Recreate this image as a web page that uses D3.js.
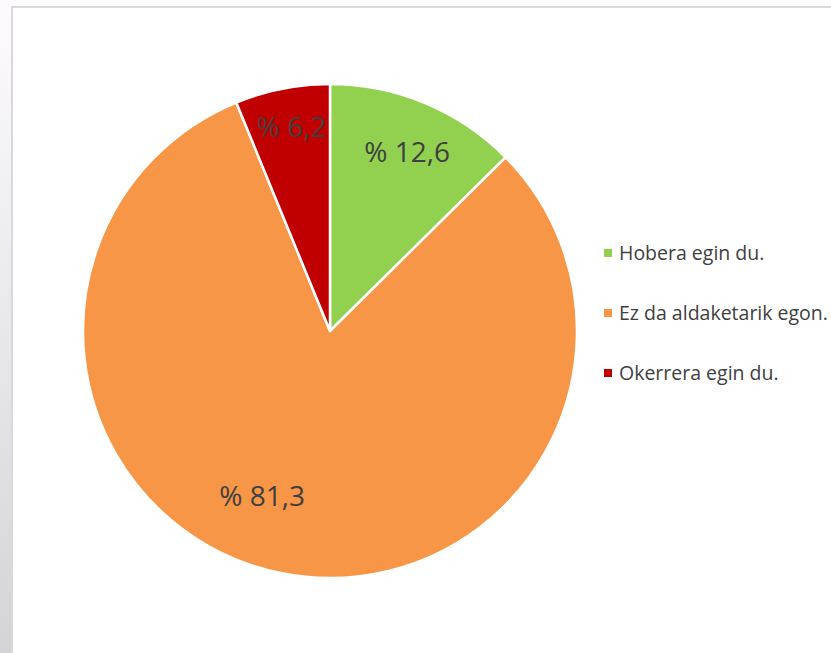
<!DOCTYPE html>
<html>
<head>
<meta charset="utf-8">
<script src="https://cdn.jsdelivr.net/npm/d3@7"></script>
<style>
  html, body { margin: 0; padding: 0; background: #fdfbfd; }
  svg { display: block; }
</style>
</head>
<body>
<div id="chart"></div>
<script>
const categories = ["Hobera egin du.", "Ez da aldaketarik egon.", "Okerrera egin du."];
const values = [12.6, 81.3, 6.2];
const labels = ["% 12,6", "% 81,3", "% 6,2"];
const colors = ["#92D050", "#F79646", "#C00000"];

const W = 831, H = 653;
const cx = 330, cy = 331, r = 247;

const svg = d3.select("#chart").append("svg")
    .attr("width", W)
    .attr("height", H);

// fond gris a gauche
const defs = svg.append("defs");
const grad = defs.append("linearGradient")
    .attr("id", "side").attr("x1", 0).attr("y1", 0).attr("x2", 0).attr("y2", 1);
grad.append("stop").attr("offset", "0%").attr("stop-color", "#fdfbfd");
grad.append("stop").attr("offset", "100%").attr("stop-color", "#d4d4d8");
svg.append("rect").attr("x", 0).attr("y", 0).attr("width", 12).attr("height", H)
    .attr("fill", "url(#side)");

// cadre
svg.append("rect")
    .attr("x", 12).attr("y", 7)
    .attr("width", W).attr("height", H)
    .attr("fill", "#ffffff")
    .attr("stroke", "#d9d9d9")
    .attr("stroke-width", 2);

const data = categories.map((c, i) => ({name: c, value: values[i], label: labels[i], color: colors[i]}));

const pie = d3.pie().sort(null).value(d => d.value);
const arc = d3.arc().innerRadius(0).outerRadius(r);

const g = svg.append("g").attr("transform", "translate(" + cx + "," + cy + ")");

const arcs = g.selectAll(".arc")
    .data(pie(data))
    .enter()
    .append("g")
    .attr("class", "arc");

arcs.append("path")
    .attr("d", arc)
    .attr("fill", d => d.data.color)
    .attr("stroke", "#ffffff")
    .attr("stroke-width", 2.5)
    .attr("stroke-linejoin", "round");

// position des etiquettes (rayon relatif, decalage angulaire en degres)
const labelPlace = [[0.79, 0.6], [0.72, 10.9], [0.84, 0.5]];

arcs.append("text")
    .attr("transform", (d, i) => {
        const a = (d.startAngle + d.endAngle) / 2 + labelPlace[i][1] * Math.PI / 180;
        const rr = r * labelPlace[i][0];
        return "translate(" + (rr * Math.sin(a)) + "," + (-rr * Math.cos(a)) + ")";
    })
    .attr("text-anchor", "middle")
    .attr("dy", "0.36em")
    .attr("font-family", "'Open Sans', 'Noto Sans', sans-serif")
    .attr("font-size", 28)
    .attr("fill", "#404040")
    .text(d => d.data.label);

// legende
const legend = svg.append("g").attr("transform", "translate(604,253)");
const items = legend.selectAll(".item")
    .data(data)
    .enter()
    .append("g")
    .attr("class", "item")
    .attr("transform", (d, i) => "translate(0," + (i * 60) + ")");

items.append("rect")
    .attr("x", 0).attr("y", -4)
    .attr("width", 8).attr("height", 8)
    .attr("fill", d => d.color);

items.append("text")
    .attr("x", 15)
    .attr("dy", "0.36em")
    .attr("font-family", "'Open Sans', 'Noto Sans', sans-serif")
    .attr("font-size", 19.5)
    .attr("fill", "#404040")
    .text(d => d.name);
</script>
</body>
</html>
